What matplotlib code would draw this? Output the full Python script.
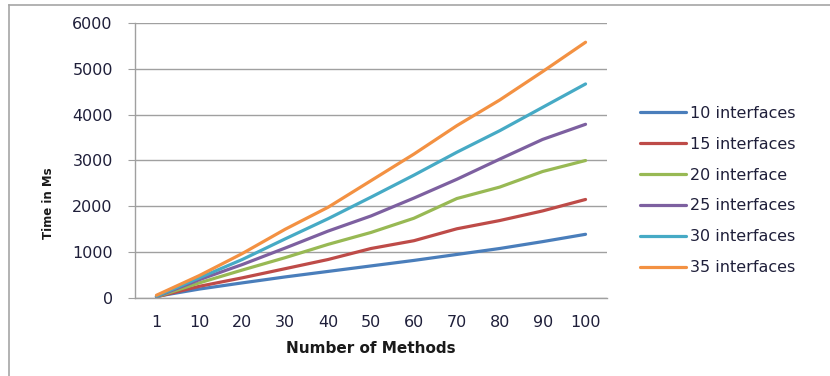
import matplotlib.pyplot as plt
from matplotlib.lines import Line2D

# データ
methods = ['1', '10', '20', '30', '40', '50', '60', '70', '80', '90', '100']
if10 = [35, 195, 330, 460, 580, 700, 820, 950, 1080, 1230, 1390]
if15 = [25, 255, 440, 640, 840, 1080, 1250, 1510, 1690, 1900, 2150]
if20 = [25, 330, 610, 880, 1170, 1430, 1740, 2170, 2420, 2760, 3000]
if25 = [30, 400, 730, 1090, 1460, 1790, 2180, 2590, 3030, 3460, 3790]
if30 = [40, 440, 840, 1290, 1730, 2200, 2680, 3180, 3650, 4160, 4670]
if35 = [60, 490, 970, 1500, 1980, 2560, 3140, 3760, 4320, 4940, 5580]
labels = ['10 interfaces', '15 interfaces', '20 interface',
          '25 interfaces', '30 interfaces', '35 interfaces']
colors = ['#4A7EBB', '#BE4B48', '#98B954', '#7D60A0', '#46AAC5', '#F39142']
y_ticks = [0, 1000, 2000, 3000, 4000, 5000, 6000]

W, H = 830, 376
fig = plt.figure(figsize=(W / 100, H / 100), dpi=100)
ax = fig.add_axes([135 / W, 1 - 298 / H, 472 / W, 275 / H])

# 外枠（左と上だけ見えている）
fig.add_artist(Line2D([9 / W, 9 / W], [0, 1 - 5 / H], transform=fig.transFigure,
                      color='#A6A6A6', lw=1.2))
fig.add_artist(Line2D([9 / W, 1], [1 - 5 / H, 1 - 5 / H], transform=fig.transFigure,
                      color='#A6A6A6', lw=1.2))

xs = list(range(len(methods)))
for series, lab, c in zip([if10, if15, if20, if25, if30, if35], labels, colors):
    ax.plot(xs, series, color=c, lw=2.3, label=lab, solid_capstyle='round')

ax.set_xlim(-0.5, len(methods) - 0.5)
ax.set_ylim(0, 6000)
ax.set_xticks(xs)
ax.set_xticklabels(methods)
ax.set_yticks(y_ticks)
ax.grid(axis='y', color='#A0A0A0', lw=1.0)
ax.set_axisbelow(True)

for s in ['top', 'right']:
    ax.spines[s].set_visible(False)
for s in ['left', 'bottom']:
    ax.spines[s].set_color('#A0A0A0')
    ax.spines[s].set_linewidth(1.0)

ax.tick_params(axis='y', length=5, color='#A0A0A0', pad=11,
               labelsize=11.5, labelcolor='#1F1F3A')
ax.tick_params(axis='x', length=0, pad=12, labelsize=11.5, labelcolor='#1F1F3A')

ax.set_xlabel('Number of Methods', fontsize=11, fontweight='bold',
              color='#1A1A1A', labelpad=8)
fig.text(48 / W, 1 - 203 / H, 'Time in Ms', rotation=90, fontsize=8.5,
         fontweight='bold', color='#1A1A1A', ha='center', va='center')

ax.legend(loc='center left', bbox_to_anchor=(640 / W, 1 - 190.5 / H),
          bbox_transform=fig.transFigure, frameon=False, fontsize=11.5,
          handlelength=2.9, handletextpad=0.22, labelspacing=1.0,
          borderpad=0, borderaxespad=0, labelcolor='#1F1F3A')

fig.savefig('out.png', dpi=100)
